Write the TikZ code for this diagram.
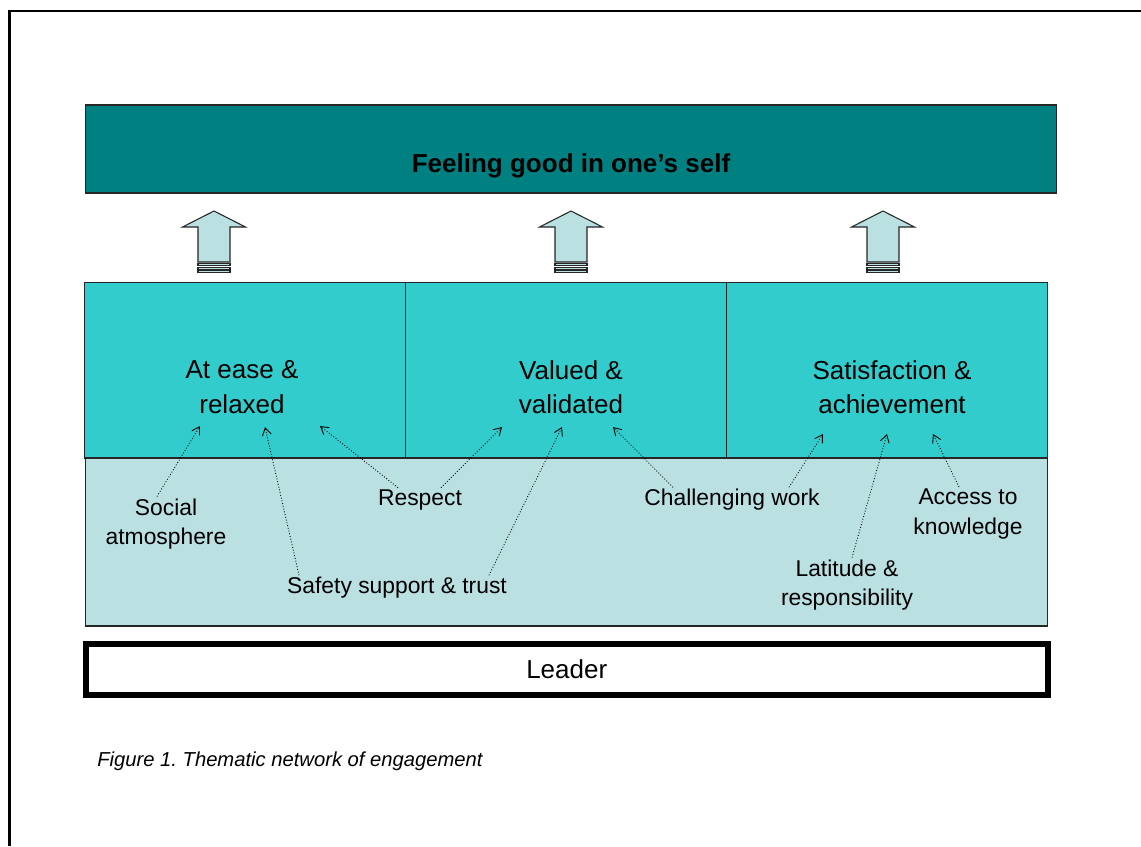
\documentclass[tikz,border=0pt]{standalone}
\usepackage{fontspec}
\setmainfont{Liberation Sans}
\usetikzlibrary{arrows.meta, positioning}

\definecolor{darkteal}{HTML}{008080}
\definecolor{midteal}{HTML}{33CCCC}
\definecolor{paleteal}{HTML}{BAE0E2}

\begin{document}
\begin{tikzpicture} [
						x=0.02cm, y=-0.02cm,
						topbox/.style={draw=black!85, line width=0.6pt, fill=darkteal, minimum width=19.44cm, minimum height=1.76cm},
						midbox/.style={draw=black!85, line width=0.6pt, fill=midteal, minimum width=6.42cm, minimum height=3.52cm, inner sep=0pt, outer sep=0pt},
						lowband/.style={draw=black!85, line width=0.6pt, fill=paleteal, minimum width=19.26cm, minimum height=3.36cm, inner sep=0pt, outer sep=0pt},
						leaderbox/.style={draw=black, line width=3.4pt, fill=white, minimum width=19.25cm, minimum height=1.02cm},
						bigtext/.style={font=\fontsize{14.8}{19.5}\selectfont, align=center},
						lbl/.style={font=\fontsize{13}{16.8}\selectfont, align=center, inner sep=1pt},
						uparrow/.style={draw=black!85, line width=0.6pt, fill=paleteal},
						link/.style={line width=0.5pt, dash pattern=on 0.5pt off 1.1pt, -{Straight Barb[length=1.5mm,width=1.8mm]}}
					]

\useasboundingbox (0,0) rectangle (1141,846);
\draw[line width=1.3pt] (9.5,846) -- (9.5,11) -- (1150,11);

% top level
\node (self) [topbox] at (571,149) {};
\node (selftext) [bigtext, font=\fontsize{14.8}{19.5}\selectfont\bfseries] at (571,166) {Feeling good in one’s self};

% block arrows
\foreach \c in {214,571,883} {
	\draw[uparrow] (\c,211) -- ({\c+31.5},227) -- ({\c+16},227) -- ({\c+16},262)
		-- ({\c-16},262) -- ({\c-16},227) -- ({\c-31.5},227) -- cycle;
	\draw[uparrow] ({\c-16},263.5) rectangle ({\c+16},265.5);
	\draw[uparrow] ({\c-16},267.5) rectangle ({\c+16},269.5);
	\draw[uparrow] ({\c-16},270.5) rectangle ({\c+16},272.5);
}

% themes
\node (band) [lowband] at (566.5,542) {};
\node (ease) [midbox] at (245,370) {};
\node (valued) [midbox, right=0pt of ease] {};
\node (achieve) [midbox, right=0pt of valued] {};

\node (easetext) [bigtext] at (242,387) {At ease \&\\relaxed};
\node (valuedtext) [bigtext] at (571,387) {Valued \&\\validated};
\node (achievetext) [bigtext] at (892,387) {Satisfaction \&\\achievement};

% sub-themes
\node (social) [lbl] at (166,524) {Social\\atmosphere};
\node (safety) [lbl] at (397,588) {Safety support \& trust};
\node (respect) [lbl] at (420,500) {Respect};
\node (challenge) [lbl] at (732,500) {Challenging work};
\node (latitude) [lbl] at (847,585) {Latitude \&\\responsibility};
\node (access) [lbl] at (968,514) {Access to\\knowledge};

\coordinate (t1) at (200,426);
\coordinate (t2) at (265,427);
\coordinate (t3) at (320,426);
\coordinate (t4) at (502,427);
\coordinate (t5) at (562,427);
\coordinate (t6) at (613,427);
\coordinate (t7) at (823,434);
\coordinate (t8) at (887,434);
\coordinate (t9) at (933,434);

\draw[link] ([xshift=-1.8mm]social.north) -- (t1);
\draw[link] ([xshift=-19.6mm]safety.north) -- (t2);
\draw[link] ([xshift=-4.4mm]respect.north) -- (t3);
\draw[link] ([xshift=4.2mm]respect.north) -- (t4);
\draw[link] ([xshift=18.4mm]safety.north) -- (t5);
\draw[link] ([xshift=-11.8mm]challenge.north) -- (t6);
\draw[link] ([xshift=11.4mm]challenge.north) -- (t7);
\draw[link] ([xshift=1mm]latitude.north) -- (t8);
\draw[link] ([xshift=-1.8mm]access.north) -- (t9);

% leader
\node (leader) [leaderbox, bigtext] at (566.75,669.5) {Leader};

\node (caption) [anchor=base west, inner sep=0pt, font=\fontsize{11.5}{14}\selectfont\itshape] at (97,766) {Figure 1.\ Thematic network of engagement};
\end{tikzpicture}
\end{document}
